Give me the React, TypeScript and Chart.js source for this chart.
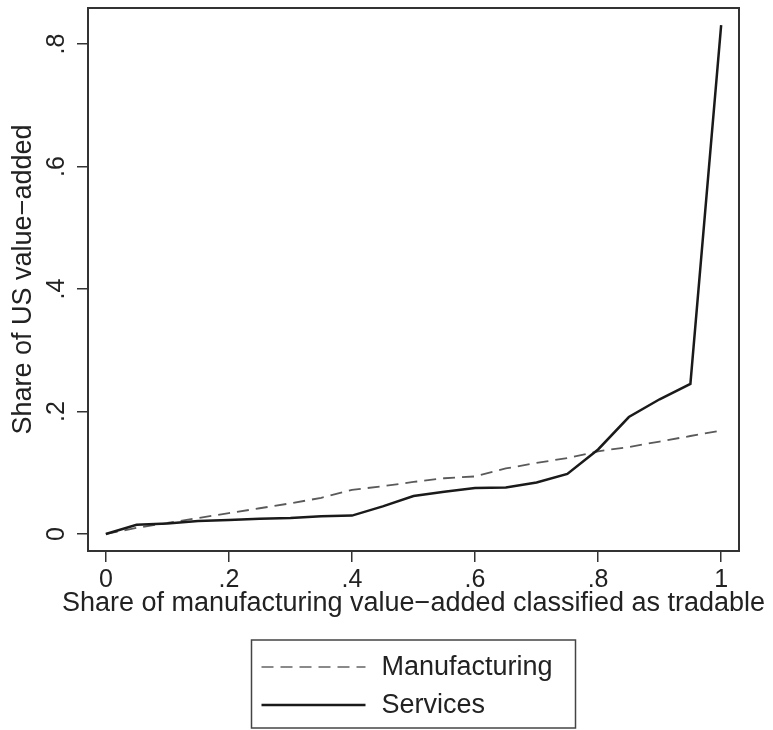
import React, { useEffect, useRef } from "react";
import { Chart, registerables } from "chart.js";

Chart.register(...registerables);

// ---- data ----
const xShares = [0, 0.05, 0.1, 0.15, 0.2, 0.25, 0.3, 0.35, 0.4, 0.45, 0.5, 0.55, 0.6, 0.65, 0.7, 0.75, 0.8, 0.85, 0.9, 0.95, 1.0];
const manufacturingShare = [0, 0.01, 0.018, 0.026, 0.034, 0.042, 0.05, 0.059, 0.072, 0.078, 0.085, 0.091, 0.094, 0.107, 0.116, 0.124, 0.135, 0.142, 0.151, 0.16, 0.169];
const servicesShare = [0, 0.015, 0.017, 0.021, 0.023, 0.025, 0.026, 0.029, 0.03, 0.045, 0.062, 0.069, 0.075, 0.076, 0.084, 0.098, 0.138, 0.191, 0.22, 0.245, 0.831];
const xTickValues = [0, 0.2, 0.4, 0.6, 0.8, 1];
const yTickValues = [0, 0.2, 0.4, 0.6, 0.8];
const seriesLabels = ["Manufacturing", "Services"];
const xTitle = "Share of manufacturing value\u2212added classified as tradable";
const yTitle = "Share of US value\u2212added";

const FONT = "'Liberation Sans', Arial, Helvetica, sans-serif";
const TEXT = "#222222";

const fmtTick = (v: number) => {
  if (Math.abs(v) < 1e-9) return "0";
  if (Math.abs(v - 1) < 1e-9) return "1";
  return String(Math.round(v * 10) / 10).replace(/^0/, "");
};

const framePlugin = {
  id: "stataFrame",
  afterDraw(chart: any) {
    const { ctx, chartArea } = chart;
    ctx.save();
    ctx.strokeStyle = "#333333";
    ctx.lineWidth = 2;
    ctx.strokeRect(chartArea.left, chartArea.top, chartArea.right - chartArea.left, chartArea.bottom - chartArea.top);
    ctx.restore();
  },
};

// y tick labels rotated (Stata style) and the x-axis title (wider than the plot area)
const axisTextPlugin = {
  id: "stataAxisText",
  afterDraw(chart: any) {
    const { ctx, chartArea, scales } = chart;
    ctx.save();
    ctx.fillStyle = TEXT;
    ctx.font = `25px ${FONT}`;
    ctx.textAlign = "center";
    ctx.textBaseline = "middle";
    const yScale = scales.y;
    const labelX = chartArea.left - 31;
    yTickValues.forEach((v) => {
      const py = yScale.getPixelForValue(v);
      ctx.save();
      ctx.translate(labelX, py);
      ctx.rotate(-Math.PI / 2);
      ctx.fillText(fmtTick(v), 0, 0);
      ctx.restore();
    });
    ctx.font = `27px ${FONT}`;
    ctx.fillText(xTitle, (chartArea.left + chartArea.right) / 2, chartArea.bottom + 53);
    ctx.restore();
  },
};

const legendPlugin = {
  id: "stataLegend",
  afterDraw(chart: any) {
    const { ctx, chartArea } = chart;
    const cx = (chartArea.left + chartArea.right) / 2;
    const w = 324;
    const h = 88;
    const left = cx - w / 2;
    const top = chartArea.bottom + 89;
    ctx.save();
    ctx.strokeStyle = "#444444";
    ctx.lineWidth = 1.5;
    ctx.strokeRect(left, top, w, h);
    const order = [1, 0]; // Manufacturing then Services
    const rows = [top + 27, top + 65];
    order.forEach((di, i) => {
      const ds = chart.data.datasets[di];
      const y = rows[i];
      ctx.beginPath();
      ctx.setLineDash(ds.borderDash || []);
      ctx.strokeStyle = ds.legendColor || ds.borderColor;
      ctx.lineWidth = ds.borderWidth;
      ctx.moveTo(left + 10, y);
      ctx.lineTo(left + 114, y);
      ctx.stroke();
      ctx.setLineDash([]);
      ctx.fillStyle = TEXT;
      ctx.font = `27px ${FONT}`;
      ctx.textAlign = "left";
      ctx.textBaseline = "middle";
      ctx.fillText(ds.label, left + 130, y + 1);
    });
    ctx.restore();
  },
};

export default function App() {
  const canvasRef = useRef<HTMLCanvasElement | null>(null);

  useEffect(() => {
    if (!canvasRef.current) return;
    const chart = new Chart(canvasRef.current, {
      type: "line",
      data: {
        datasets: [
          {
            label: seriesLabels[1],
            data: xShares.map((x, i) => ({ x, y: servicesShare[i] })),
            borderColor: "#1a1a1a",
            borderWidth: 2.5,
            pointRadius: 0,
            fill: false,
            tension: 0,
            order: 0,
          },
          {
            label: seriesLabels[0],
            data: xShares.map((x, i) => ({ x, y: manufacturingShare[i] })),
            borderColor: "#5a5a5a",
            legendColor: "#8a8a8a",
            borderWidth: 1.8,
            borderDash: [12, 7],
            pointRadius: 0,
            fill: false,
            tension: 0,
            order: 1,
          } as any,
        ],
      },
      options: {
        animation: false,
        responsive: false,
        layout: { padding: { top: 8, right: 34, bottom: 110, left: 0 } },
        plugins: { legend: { display: false }, tooltip: { enabled: false } },
        scales: {
          x: {
            type: "linear",
            min: -0.029,
            max: 1.029,
            afterBuildTicks: (s: any) => {
              s.ticks = xTickValues.map((v) => ({ value: v }));
            },
            afterFit: (s: any) => {
              s.height = 69;
            },
            grid: { drawOnChartArea: false, drawTicks: true, tickLength: 11, color: "#333333", lineWidth: 1.5 },
            border: { display: false },
            ticks: {
              color: TEXT,
              font: { family: FONT, size: 25 },
              padding: 3,
              maxRotation: 0,
              minRotation: 0,
              callback: (v: any) => fmtTick(Number(v)),
            },
            title: { display: false },
          },
          y: {
            type: "linear",
            min: -0.0278,
            max: 0.859,
            afterBuildTicks: (s: any) => {
              s.ticks = yTickValues.map((v) => ({ value: v }));
            },
            afterFit: (s: any) => {
              s.width = 88;
            },
            grid: { drawOnChartArea: false, drawTicks: true, tickLength: 11, color: "#333333", lineWidth: 1.5 },
            border: { display: false },
            ticks: { display: false },
            title: {
              display: true,
              text: yTitle,
              color: TEXT,
              font: { family: FONT, size: 27 },
              padding: { top: 7, bottom: 0 },
            },
          },
        },
      } as any,
      plugins: [framePlugin, axisTextPlugin, legendPlugin],
    });
    return () => chart.destroy();
  }, []);

  return (
    <div style={{ position: "fixed", left: 0, top: 0, width: 773, height: 730, background: "#ffffff" }}>
      <canvas ref={canvasRef} width={773} height={730} style={{ width: 773, height: 730, display: "block" }} />
    </div>
  );
}
